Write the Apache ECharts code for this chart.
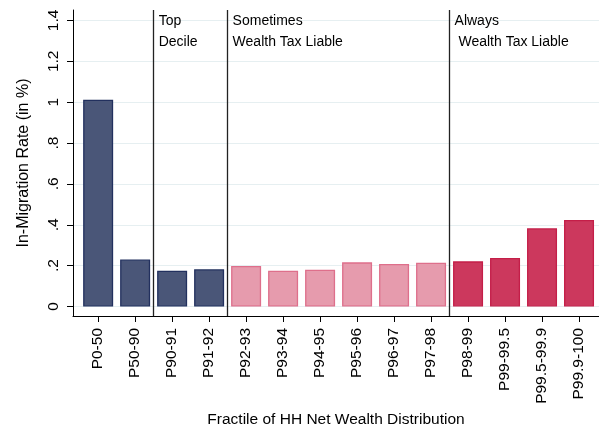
<!DOCTYPE html>
<html>
<head>
    <meta charset="utf-8">
    <script src="https://cdn.jsdelivr.net/npm/echarts@6/dist/echarts.min.js"></script>
    <title></title>
    <style>
        html, body { margin: 0; padding: 0; background: #fff; }
        #myChart { width: 599px; height: 427px; }
    </style>
</head>
<body>
<div id="myChart"></div>

<script>
    // categories (fractiles) and migration rates
    var fractiles = ['P0-50', 'P50-90', 'P90-91', 'P91-92', 'P92-93', 'P93-94', 'P94-95',
        'P95-96', 'P96-97', 'P97-98', 'P98-99', 'P99-99.5', 'P99.5-99.9', 'P99.9-100'];
    var rates = [1.012, 0.230, 0.175, 0.182, 0.198, 0.175, 0.180,
        0.216, 0.208, 0.214, 0.221, 0.237, 0.383, 0.423];
    // group of each bar: 0 = below top decile, 1 = sometimes liable, 2 = always liable
    var groups = [0, 0, 0, 0, 1, 1, 1, 1, 1, 1, 2, 2, 2, 2];
    var yTicks = [0, 0.2, 0.4, 0.6, 0.8, 1, 1.2, 1.4];
    var yTickLabels = ['0', '.2', '.4', '.6', '.8', '1', '1.2', '1.4'];
    // dividers sit between categories
    var dividers = [1.5, 3.5, 9.5];
    var notes = [
        { at: 1.5, lines: ['Top', 'Decile'] },
        { at: 3.5, lines: ['Sometimes', 'Wealth Tax Liable'] },
        { at: 9.5, lines: ['Always', ' Wealth Tax Liable'] }
    ];

    var fills = ['#4a5678', '#e69bad', '#cc385d'];
    var borders = ['#22305e', '#de6f8b', '#c41e48'];
    var font = '"Liberation Sans", Arial, Helvetica, sans-serif';

    var barData = rates.map(function (v, i) {
        return {
            value: [i, v],
            itemStyle: { color: fills[groups[i]], borderColor: borders[groups[i]], borderWidth: 1.3 }
        };
    });
    var catIdx = fractiles.map(function (f, i) { return i; });

    var myChart = echarts.init(document.getElementById('myChart'));
    myChart.setOption({
        animation: false,
        grid: { left: 73, right: 0, top: 10, bottom: 111, containLabel: false, outerBoundsMode: 'none' },
        xAxis: {
            type: 'value',
            min: -0.68,
            max: 13.54,
            name: 'Fractile of HH Net Wealth Distribution',
            nameLocation: 'middle',
            nameGap: 95,
            nameTextStyle: { fontFamily: font, fontSize: 15.5, color: '#000' },
            axisLine: { onZero: false, lineStyle: { color: '#000', width: 1 } },
            axisTick: { customValues: catIdx, length: 6, lineStyle: { color: '#000' } },
            axisLabel: {
                customValues: catIdx,
                rotate: 90,
                margin: 12,
                fontFamily: font,
                fontSize: 15.5,
                color: '#000',
                formatter: function (v) { return fractiles[Math.round(v)]; }
            },
            splitLine: { show: false }
        },
        yAxis: {
            type: 'value',
            min: -0.0465,
            max: 1.451,
            name: 'In-Migration Rate (in %)',
            nameLocation: 'middle',
            nameGap: 41,
            nameTextStyle: { fontFamily: font, fontSize: 16, color: '#000' },
            axisLine: { show: true, onZero: false, lineStyle: { color: '#000', width: 1 } },
            axisTick: { show: true, customValues: yTicks, length: 6, lineStyle: { color: '#000' } },
            axisLabel: {
                customValues: yTicks,
                rotate: 90,
                margin: 11,
                fontFamily: font,
                fontSize: 15.5,
                color: '#000',
                formatter: function (v) { return yTickLabels[yTicks.indexOf(Math.round(v * 10) / 10)]; }
            },
            splitLine: { show: true, lineStyle: { color: '#e6eff1', width: 1 } }
        },
        series: [{
            type: 'bar',
            barWidth: 30,
            data: barData,
            markLine: {
                symbol: 'none',
                silent: true,
                label: { show: false },
                lineStyle: { color: '#222', type: 'solid', width: 1.3 },
                data: dividers.map(function (d) { return { xAxis: d }; })
            }
        }]
    });

    // group notes placed next to the divider lines
    var texts = [];
    notes.forEach(function (n) {
        var x = myChart.convertToPixel({ xAxisIndex: 0 }, n.at);
        n.lines.forEach(function (t, k) {
            texts.push({
                type: 'text',
                left: x + 5,
                top: 14 + k * 21,
                style: { text: t, fontFamily: font, fontSize: 14, fill: '#000' }
            });
        });
    });
    myChart.setOption({ graphic: texts });
</script>
</body>
</html>
